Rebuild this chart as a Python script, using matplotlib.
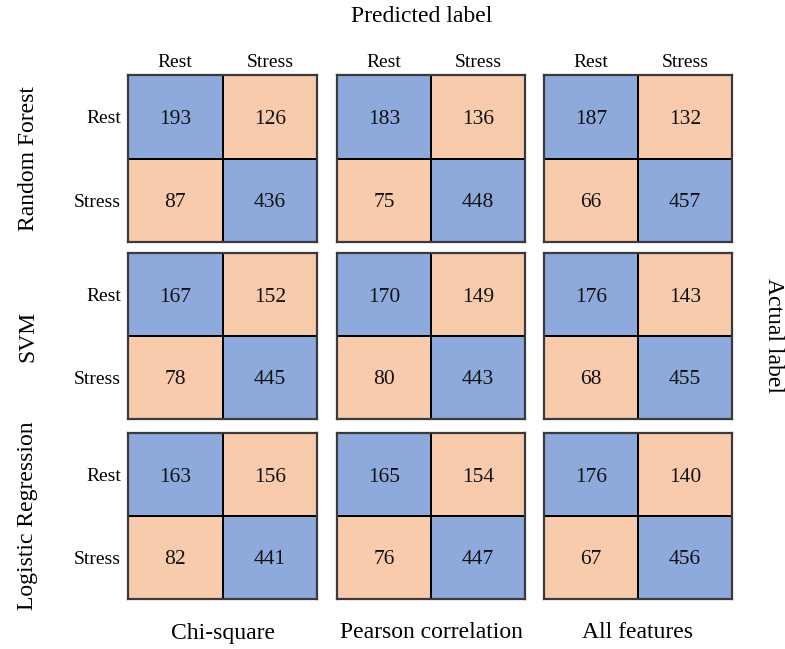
import numpy as np
import matplotlib
matplotlib.use("Agg")
import matplotlib.pyplot as plt
from matplotlib.colors import ListedColormap

plt.rcParams['font.family'] = ['Liberation Serif', 'DejaVu Serif']

classes = ["Rest", "Stress"]
models = ["Random Forest", "SVM", "Logistic Regression"]
selections = ["Chi-square", "Pearson correlation", "All features"]

rf_chi = [[193, 126], [87, 436]]
rf_pearson = [[183, 136], [75, 448]]
rf_all = [[187, 132], [66, 457]]
svm_chi = [[167, 152], [78, 445]]
svm_pearson = [[170, 149], [80, 443]]
svm_all = [[176, 143], [68, 455]]
lr_chi = [[163, 156], [82, 441]]
lr_pearson = [[165, 154], [76, 447]]
lr_all = [[176, 140], [67, 456]]

matrices = [
    [rf_chi, rf_pearson, rf_all],
    [svm_chi, svm_pearson, svm_all],
    [lr_chi, lr_pearson, lr_all],
]

blue = "#8eaadc"
orange = "#f8cbad"
cmap = ListedColormap([blue, orange])

W, H = 785, 649
fig = plt.figure(figsize=(W / 100, H / 100), dpi=100)

col_x = [(128, 317), (337, 525), (544, 732)]
row_y = [(75, 242), (253, 419), (433, 599)]

for r in range(3):
    for c in range(3):
        x0, x1 = col_x[c]
        y0, y1 = row_y[r]
        ax = fig.add_axes([x0 / W, 1 - y1 / H, (x1 - x0) / W, (y1 - y0) / H])
        cm = np.array(matrices[r][c])
        kind = 1 - np.eye(2)
        ax.pcolormesh(np.arange(3), np.arange(3), kind, cmap=cmap,
                      vmin=0, vmax=1, edgecolor="black", linewidth=1.2)
        ax.set_xlim(0, 2)
        ax.set_ylim(2, 0)
        for i in range(2):
            for j in range(2):
                ax.text(j + 0.5, i + 0.5, str(cm[i, j]), ha="center",
                        va="center_baseline", fontsize=15.5, color="#111111")
        for s in ax.spines.values():
            s.set_color("#3a3a3a")
            s.set_linewidth(1.6)
        ax.xaxis.tick_top()
        ax.set_xticks([0.5, 1.5])
        ax.set_xticklabels(classes, fontsize=14)
        ax.tick_params(axis="both", length=0)
        ax.tick_params(axis="x", pad=3)
        ax.set_yticks([0.5, 1.5])
        if c == 0:
            ax.set_yticklabels(classes, fontsize=14, va="center_baseline")
            ax.tick_params(axis="y", pad=5)
        else:
            ax.set_yticklabels([])
        if r != 0:
            ax.tick_params(axis="x", labeltop=False)

# Row titles (classifiers)
for r, name in enumerate(models):
    yc = (row_y[r][0] + row_y[r][1]) / 2
    fig.text(28 / W, 1 - yc / H, name, rotation=90, ha="center", va="center",
             fontsize=17)

# Column titles (feature selection)
for c, name in enumerate(selections):
    xc = (col_x[c][0] + col_x[c][1]) / 2
    fig.text(xc / W, 1 - 633 / H, name, ha="center", va="center", fontsize=17)

fig.text(422 / W, 1 - 17 / H, "Predicted label", ha="center", va="center",
         fontsize=17)
fig.text(773 / W, 1 - 336 / H, "Actual label", rotation=-90, ha="center",
         va="center", fontsize=17)

fig.savefig("out.png", dpi=100)
